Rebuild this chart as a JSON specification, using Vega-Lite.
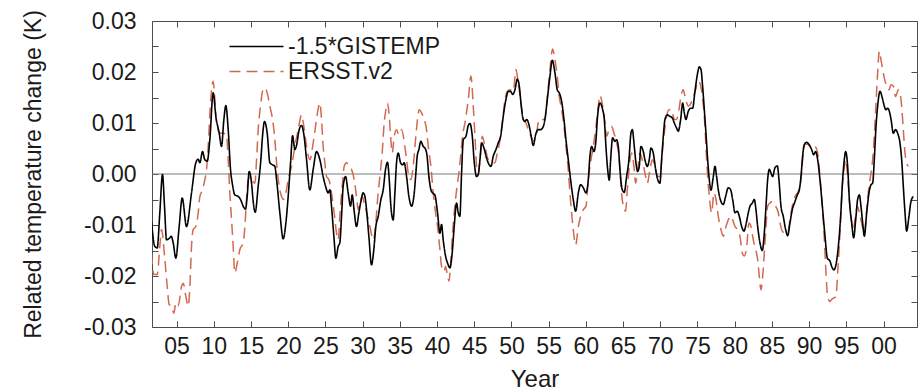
{
"$schema": "https://vega.github.io/schema/vega-lite/v6.json",
"width": 765, "height": 306,
"autosize": {"type": "none"},
"padding": {"left": 152, "top": 21, "right": 7, "bottom": 64},
"background": "white",
"config": {
  "font": "Liberation Sans",
  "view": {"stroke": "#4d4d4d", "strokeWidth": 1},
  "axis": {"domain": false, "grid": false, "tickColor": "#4d4d4d", "tickSize": -6, "tickWidth": 1,
           "labelFontSize": 23, "labelColor": "#1a1a1a", "labelFont": "Liberation Sans",
           "titleFontSize": 23, "titleColor": "#1a1a1a", "titleFontWeight": "normal", "titleFont": "Liberation Sans",
           "labelOverlap": false},
  "legend": {"orient": "none", "legendX": 93, "legendY": 14, "padding": 0,
             "labelFontSize": 23, "labelFont": "Liberation Sans", "labelColor": "#1a1a1a",
             "symbolType": "M-3,0H3", "symbolSize": 324, "symbolStrokeWidth": 1.5,
             "labelOffset": 20, "rowPadding": 1}
},
"data": {"values": [
{"series":"-1.5*GISTEMP","year":1901.63,"value":-0.0093},
{"series":"-1.5*GISTEMP","year":1902.08,"value":-0.0142},
{"series":"-1.5*GISTEMP","year":1902.40,"value":-0.0145},
{"series":"-1.5*GISTEMP","year":1902.75,"value":-0.0076},
{"series":"-1.5*GISTEMP","year":1903.11,"value":-0.0001},
{"series":"-1.5*GISTEMP","year":1903.38,"value":-0.0063},
{"series":"-1.5*GISTEMP","year":1903.65,"value":-0.0129},
{"series":"-1.5*GISTEMP","year":1904.10,"value":-0.0125},
{"series":"-1.5*GISTEMP","year":1904.28,"value":-0.0122},
{"series":"-1.5*GISTEMP","year":1904.55,"value":-0.0135},
{"series":"-1.5*GISTEMP","year":1904.90,"value":-0.0165},
{"series":"-1.5*GISTEMP","year":1905.35,"value":-0.0103},
{"series":"-1.5*GISTEMP","year":1905.76,"value":-0.0047},
{"series":"-1.5*GISTEMP","year":1906.34,"value":-0.0103},
{"series":"-1.5*GISTEMP","year":1907.01,"value":-0.0037},
{"series":"-1.5*GISTEMP","year":1907.59,"value":0.0022},
{"series":"-1.5*GISTEMP","year":1907.91,"value":0.0029},
{"series":"-1.5*GISTEMP","year":1908.13,"value":0.0022},
{"series":"-1.5*GISTEMP","year":1908.49,"value":0.0044},
{"series":"-1.5*GISTEMP","year":1908.80,"value":0.0028},
{"series":"-1.5*GISTEMP","year":1909.12,"value":0.0025},
{"series":"-1.5*GISTEMP","year":1909.47,"value":0.0067},
{"series":"-1.5*GISTEMP","year":1909.92,"value":0.0159},
{"series":"-1.5*GISTEMP","year":1910.28,"value":0.0113},
{"series":"-1.5*GISTEMP","year":1910.73,"value":0.0080},
{"series":"-1.5*GISTEMP","year":1911.04,"value":0.0054},
{"series":"-1.5*GISTEMP","year":1911.36,"value":0.0107},
{"series":"-1.5*GISTEMP","year":1911.62,"value":0.0134},
{"series":"-1.5*GISTEMP","year":1911.94,"value":0.0087},
{"series":"-1.5*GISTEMP","year":1912.25,"value":0.0009},
{"series":"-1.5*GISTEMP","year":1912.52,"value":-0.0021},
{"series":"-1.5*GISTEMP","year":1912.83,"value":-0.0041},
{"series":"-1.5*GISTEMP","year":1913.28,"value":-0.0044},
{"series":"-1.5*GISTEMP","year":1913.60,"value":-0.0050},
{"series":"-1.5*GISTEMP","year":1913.95,"value":-0.0063},
{"series":"-1.5*GISTEMP","year":1914.27,"value":-0.0069},
{"series":"-1.5*GISTEMP","year":1914.49,"value":-0.0044},
{"series":"-1.5*GISTEMP","year":1914.76,"value":0.0005},
{"series":"-1.5*GISTEMP","year":1915.08,"value":-0.0018},
{"series":"-1.5*GISTEMP","year":1915.30,"value":-0.0054},
{"series":"-1.5*GISTEMP","year":1915.57,"value":-0.0075},
{"series":"-1.5*GISTEMP","year":1915.97,"value":-0.0024},
{"series":"-1.5*GISTEMP","year":1916.33,"value":0.0028},
{"series":"-1.5*GISTEMP","year":1916.55,"value":0.0074},
{"series":"-1.5*GISTEMP","year":1916.82,"value":0.0103},
{"series":"-1.5*GISTEMP","year":1917.18,"value":0.0080},
{"series":"-1.5*GISTEMP","year":1917.54,"value":0.0022},
{"series":"-1.5*GISTEMP","year":1917.90,"value":0.0018},
{"series":"-1.5*GISTEMP","year":1918.21,"value":0.0015},
{"series":"-1.5*GISTEMP","year":1918.44,"value":-0.0011},
{"series":"-1.5*GISTEMP","year":1918.88,"value":-0.0076},
{"series":"-1.5*GISTEMP","year":1919.33,"value":-0.0127},
{"series":"-1.5*GISTEMP","year":1919.69,"value":-0.0096},
{"series":"-1.5*GISTEMP","year":1920.00,"value":-0.0044},
{"series":"-1.5*GISTEMP","year":1920.32,"value":0.0022},
{"series":"-1.5*GISTEMP","year":1920.59,"value":0.0075},
{"series":"-1.5*GISTEMP","year":1920.90,"value":0.0048},
{"series":"-1.5*GISTEMP","year":1921.12,"value":0.0056},
{"series":"-1.5*GISTEMP","year":1921.48,"value":0.0087},
{"series":"-1.5*GISTEMP","year":1921.80,"value":0.0095},
{"series":"-1.5*GISTEMP","year":1922.11,"value":0.0077},
{"series":"-1.5*GISTEMP","year":1922.47,"value":0.0028},
{"series":"-1.5*GISTEMP","year":1922.91,"value":-0.0031},
{"series":"-1.5*GISTEMP","year":1923.36,"value":0.0009},
{"series":"-1.5*GISTEMP","year":1923.81,"value":0.0044},
{"series":"-1.5*GISTEMP","year":1924.26,"value":0.0028},
{"series":"-1.5*GISTEMP","year":1924.70,"value":-0.0005},
{"series":"-1.5*GISTEMP","year":1925.02,"value":-0.0024},
{"series":"-1.5*GISTEMP","year":1925.38,"value":-0.0037},
{"series":"-1.5*GISTEMP","year":1925.60,"value":-0.0031},
{"series":"-1.5*GISTEMP","year":1925.82,"value":-0.0063},
{"series":"-1.5*GISTEMP","year":1926.14,"value":-0.0122},
{"series":"-1.5*GISTEMP","year":1926.41,"value":-0.0165},
{"series":"-1.5*GISTEMP","year":1926.72,"value":-0.0142},
{"series":"-1.5*GISTEMP","year":1926.94,"value":-0.0135},
{"series":"-1.5*GISTEMP","year":1927.17,"value":-0.0083},
{"series":"-1.5*GISTEMP","year":1927.39,"value":-0.0024},
{"series":"-1.5*GISTEMP","year":1927.71,"value":-0.0005},
{"series":"-1.5*GISTEMP","year":1928.06,"value":-0.0037},
{"series":"-1.5*GISTEMP","year":1928.38,"value":-0.0063},
{"series":"-1.5*GISTEMP","year":1928.60,"value":-0.0041},
{"series":"-1.5*GISTEMP","year":1928.87,"value":-0.0073},
{"series":"-1.5*GISTEMP","year":1929.18,"value":-0.0103},
{"series":"-1.5*GISTEMP","year":1929.50,"value":-0.0076},
{"series":"-1.5*GISTEMP","year":1929.77,"value":-0.0054},
{"series":"-1.5*GISTEMP","year":1930.08,"value":-0.0037},
{"series":"-1.5*GISTEMP","year":1930.31,"value":-0.0044},
{"series":"-1.5*GISTEMP","year":1930.53,"value":-0.0070},
{"series":"-1.5*GISTEMP","year":1930.84,"value":-0.0122},
{"series":"-1.5*GISTEMP","year":1931.20,"value":-0.0178},
{"series":"-1.5*GISTEMP","year":1931.51,"value":-0.0148},
{"series":"-1.5*GISTEMP","year":1931.78,"value":-0.0103},
{"series":"-1.5*GISTEMP","year":1932.10,"value":-0.0083},
{"series":"-1.5*GISTEMP","year":1932.46,"value":-0.0050},
{"series":"-1.5*GISTEMP","year":1932.77,"value":-0.0031},
{"series":"-1.5*GISTEMP","year":1933.08,"value":0.0009},
{"series":"-1.5*GISTEMP","year":1933.35,"value":0.0023},
{"series":"-1.5*GISTEMP","year":1933.58,"value":-0.0011},
{"series":"-1.5*GISTEMP","year":1933.80,"value":-0.0063},
{"series":"-1.5*GISTEMP","year":1934.11,"value":-0.0090},
{"series":"-1.5*GISTEMP","year":1934.34,"value":-0.0037},
{"series":"-1.5*GISTEMP","year":1934.56,"value":0.0022},
{"series":"-1.5*GISTEMP","year":1934.79,"value":0.0041},
{"series":"-1.5*GISTEMP","year":1935.10,"value":0.0022},
{"series":"-1.5*GISTEMP","year":1935.37,"value":0.0018},
{"series":"-1.5*GISTEMP","year":1935.59,"value":0.0022},
{"series":"-1.5*GISTEMP","year":1935.91,"value":-0.0005},
{"series":"-1.5*GISTEMP","year":1936.22,"value":-0.0044},
{"series":"-1.5*GISTEMP","year":1936.58,"value":-0.0063},
{"series":"-1.5*GISTEMP","year":1936.94,"value":-0.0037},
{"series":"-1.5*GISTEMP","year":1937.16,"value":0.0002},
{"series":"-1.5*GISTEMP","year":1937.34,"value":0.0035},
{"series":"-1.5*GISTEMP","year":1937.56,"value":0.0048},
{"series":"-1.5*GISTEMP","year":1937.83,"value":0.0064},
{"series":"-1.5*GISTEMP","year":1938.15,"value":0.0054},
{"series":"-1.5*GISTEMP","year":1938.37,"value":0.0051},
{"series":"-1.5*GISTEMP","year":1938.64,"value":0.0038},
{"series":"-1.5*GISTEMP","year":1938.91,"value":-0.0005},
{"series":"-1.5*GISTEMP","year":1939.18,"value":-0.0031},
{"series":"-1.5*GISTEMP","year":1939.40,"value":-0.0037},
{"series":"-1.5*GISTEMP","year":1939.71,"value":-0.0041},
{"series":"-1.5*GISTEMP","year":1940.07,"value":-0.0076},
{"series":"-1.5*GISTEMP","year":1940.39,"value":-0.0116},
{"series":"-1.5*GISTEMP","year":1940.61,"value":-0.0099},
{"series":"-1.5*GISTEMP","year":1940.83,"value":-0.0129},
{"series":"-1.5*GISTEMP","year":1941.15,"value":-0.0161},
{"series":"-1.5*GISTEMP","year":1941.42,"value":-0.0175},
{"series":"-1.5*GISTEMP","year":1941.73,"value":-0.0184},
{"series":"-1.5*GISTEMP","year":1942.04,"value":-0.0155},
{"series":"-1.5*GISTEMP","year":1942.31,"value":-0.0103},
{"series":"-1.5*GISTEMP","year":1942.63,"value":-0.0057},
{"series":"-1.5*GISTEMP","year":1942.85,"value":-0.0076},
{"series":"-1.5*GISTEMP","year":1943.07,"value":-0.0083},
{"series":"-1.5*GISTEMP","year":1943.30,"value":0.0002},
{"series":"-1.5*GISTEMP","year":1943.53,"value":0.0067},
{"series":"-1.5*GISTEMP","year":1943.89,"value":0.0074},
{"series":"-1.5*GISTEMP","year":1944.20,"value":0.0095},
{"series":"-1.5*GISTEMP","year":1944.42,"value":0.0099},
{"series":"-1.5*GISTEMP","year":1944.74,"value":0.0074},
{"series":"-1.5*GISTEMP","year":1945.01,"value":0.0022},
{"series":"-1.5*GISTEMP","year":1945.32,"value":-0.0005},
{"series":"-1.5*GISTEMP","year":1945.54,"value":-0.0001},
{"series":"-1.5*GISTEMP","year":1945.77,"value":0.0028},
{"series":"-1.5*GISTEMP","year":1945.99,"value":0.0061},
{"series":"-1.5*GISTEMP","year":1946.31,"value":0.0051},
{"series":"-1.5*GISTEMP","year":1946.66,"value":0.0031},
{"series":"-1.5*GISTEMP","year":1947.02,"value":0.0018},
{"series":"-1.5*GISTEMP","year":1947.25,"value":0.0015},
{"series":"-1.5*GISTEMP","year":1947.56,"value":0.0035},
{"series":"-1.5*GISTEMP","year":1947.92,"value":0.0048},
{"series":"-1.5*GISTEMP","year":1948.23,"value":0.0061},
{"series":"-1.5*GISTEMP","year":1948.55,"value":0.0074},
{"series":"-1.5*GISTEMP","year":1948.90,"value":0.0113},
{"series":"-1.5*GISTEMP","year":1949.26,"value":0.0146},
{"series":"-1.5*GISTEMP","year":1949.58,"value":0.0162},
{"series":"-1.5*GISTEMP","year":1949.89,"value":0.0162},
{"series":"-1.5*GISTEMP","year":1950.16,"value":0.0156},
{"series":"-1.5*GISTEMP","year":1950.47,"value":0.0165},
{"series":"-1.5*GISTEMP","year":1950.79,"value":0.0186},
{"series":"-1.5*GISTEMP","year":1951.06,"value":0.0172},
{"series":"-1.5*GISTEMP","year":1951.28,"value":0.0139},
{"series":"-1.5*GISTEMP","year":1951.59,"value":0.0107},
{"series":"-1.5*GISTEMP","year":1951.82,"value":0.0103},
{"series":"-1.5*GISTEMP","year":1952.04,"value":0.0107},
{"series":"-1.5*GISTEMP","year":1952.35,"value":0.0097},
{"series":"-1.5*GISTEMP","year":1952.62,"value":0.0077},
{"series":"-1.5*GISTEMP","year":1952.94,"value":0.0056},
{"series":"-1.5*GISTEMP","year":1953.25,"value":0.0077},
{"series":"-1.5*GISTEMP","year":1953.61,"value":0.0087},
{"series":"-1.5*GISTEMP","year":1953.92,"value":0.0087},
{"series":"-1.5*GISTEMP","year":1954.28,"value":0.0093},
{"series":"-1.5*GISTEMP","year":1954.50,"value":0.0107},
{"series":"-1.5*GISTEMP","year":1954.82,"value":0.0146},
{"series":"-1.5*GISTEMP","year":1955.18,"value":0.0192},
{"series":"-1.5*GISTEMP","year":1955.49,"value":0.0223},
{"series":"-1.5*GISTEMP","year":1955.85,"value":0.0198},
{"series":"-1.5*GISTEMP","year":1956.16,"value":0.0165},
{"series":"-1.5*GISTEMP","year":1956.43,"value":0.0159},
{"series":"-1.5*GISTEMP","year":1956.75,"value":0.0142},
{"series":"-1.5*GISTEMP","year":1957.06,"value":0.0107},
{"series":"-1.5*GISTEMP","year":1957.33,"value":0.0067},
{"series":"-1.5*GISTEMP","year":1957.64,"value":0.0028},
{"series":"-1.5*GISTEMP","year":1957.95,"value":-0.0011},
{"series":"-1.5*GISTEMP","year":1958.31,"value":-0.0050},
{"series":"-1.5*GISTEMP","year":1958.63,"value":-0.0073},
{"series":"-1.5*GISTEMP","year":1958.99,"value":-0.0037},
{"series":"-1.5*GISTEMP","year":1959.30,"value":-0.0021},
{"series":"-1.5*GISTEMP","year":1959.66,"value":-0.0027},
{"series":"-1.5*GISTEMP","year":1960.02,"value":-0.0037},
{"series":"-1.5*GISTEMP","year":1960.33,"value":-0.0011},
{"series":"-1.5*GISTEMP","year":1960.55,"value":0.0035},
{"series":"-1.5*GISTEMP","year":1960.78,"value":0.0054},
{"series":"-1.5*GISTEMP","year":1961.09,"value":0.0044},
{"series":"-1.5*GISTEMP","year":1961.36,"value":0.0067},
{"series":"-1.5*GISTEMP","year":1961.54,"value":0.0107},
{"series":"-1.5*GISTEMP","year":1961.90,"value":0.0139},
{"series":"-1.5*GISTEMP","year":1962.26,"value":0.0126},
{"series":"-1.5*GISTEMP","year":1962.48,"value":0.0107},
{"series":"-1.5*GISTEMP","year":1962.70,"value":0.0054},
{"series":"-1.5*GISTEMP","year":1962.93,"value":0.0009},
{"series":"-1.5*GISTEMP","year":1963.15,"value":-0.0012},
{"series":"-1.5*GISTEMP","year":1963.33,"value":0.0028},
{"series":"-1.5*GISTEMP","year":1963.60,"value":0.0071},
{"series":"-1.5*GISTEMP","year":1963.91,"value":0.0064},
{"series":"-1.5*GISTEMP","year":1964.13,"value":0.0067},
{"series":"-1.5*GISTEMP","year":1964.36,"value":0.0054},
{"series":"-1.5*GISTEMP","year":1964.58,"value":0.0009},
{"series":"-1.5*GISTEMP","year":1964.90,"value":-0.0031},
{"series":"-1.5*GISTEMP","year":1965.16,"value":-0.0036},
{"series":"-1.5*GISTEMP","year":1965.48,"value":-0.0005},
{"series":"-1.5*GISTEMP","year":1965.79,"value":0.0028},
{"series":"-1.5*GISTEMP","year":1966.06,"value":0.0080},
{"series":"-1.5*GISTEMP","year":1966.24,"value":0.0087},
{"series":"-1.5*GISTEMP","year":1966.51,"value":0.0054},
{"series":"-1.5*GISTEMP","year":1966.73,"value":0.0022},
{"series":"-1.5*GISTEMP","year":1966.96,"value":0.0005},
{"series":"-1.5*GISTEMP","year":1967.18,"value":0.0015},
{"series":"-1.5*GISTEMP","year":1967.40,"value":0.0054},
{"series":"-1.5*GISTEMP","year":1967.72,"value":0.0044},
{"series":"-1.5*GISTEMP","year":1967.94,"value":0.0028},
{"series":"-1.5*GISTEMP","year":1968.26,"value":0.0015},
{"series":"-1.5*GISTEMP","year":1968.52,"value":0.0028},
{"series":"-1.5*GISTEMP","year":1968.75,"value":0.0051},
{"series":"-1.5*GISTEMP","year":1969.06,"value":0.0041},
{"series":"-1.5*GISTEMP","year":1969.38,"value":0.0009},
{"series":"-1.5*GISTEMP","year":1969.64,"value":-0.0010},
{"series":"-1.5*GISTEMP","year":1969.96,"value":-0.0018},
{"series":"-1.5*GISTEMP","year":1970.18,"value":0.0028},
{"series":"-1.5*GISTEMP","year":1970.41,"value":0.0074},
{"series":"-1.5*GISTEMP","year":1970.63,"value":0.0107},
{"series":"-1.5*GISTEMP","year":1970.94,"value":0.0116},
{"series":"-1.5*GISTEMP","year":1971.30,"value":0.0113},
{"series":"-1.5*GISTEMP","year":1971.62,"value":0.0110},
{"series":"-1.5*GISTEMP","year":1971.89,"value":0.0100},
{"series":"-1.5*GISTEMP","year":1972.20,"value":0.0090},
{"series":"-1.5*GISTEMP","year":1972.42,"value":0.0084},
{"series":"-1.5*GISTEMP","year":1972.74,"value":0.0107},
{"series":"-1.5*GISTEMP","year":1973.01,"value":0.0139},
{"series":"-1.5*GISTEMP","year":1973.23,"value":0.0120},
{"series":"-1.5*GISTEMP","year":1973.45,"value":0.0107},
{"series":"-1.5*GISTEMP","year":1973.77,"value":0.0123},
{"series":"-1.5*GISTEMP","year":1974.08,"value":0.0129},
{"series":"-1.5*GISTEMP","year":1974.35,"value":0.0129},
{"series":"-1.5*GISTEMP","year":1974.66,"value":0.0162},
{"series":"-1.5*GISTEMP","year":1975.02,"value":0.0198},
{"series":"-1.5*GISTEMP","year":1975.25,"value":0.0210},
{"series":"-1.5*GISTEMP","year":1975.47,"value":0.0205},
{"series":"-1.5*GISTEMP","year":1975.69,"value":0.0172},
{"series":"-1.5*GISTEMP","year":1975.92,"value":0.0126},
{"series":"-1.5*GISTEMP","year":1976.14,"value":0.0080},
{"series":"-1.5*GISTEMP","year":1976.37,"value":0.0028},
{"series":"-1.5*GISTEMP","year":1976.59,"value":-0.0011},
{"series":"-1.5*GISTEMP","year":1976.81,"value":-0.0032},
{"series":"-1.5*GISTEMP","year":1977.13,"value":-0.0005},
{"series":"-1.5*GISTEMP","year":1977.35,"value":0.0015},
{"series":"-1.5*GISTEMP","year":1977.57,"value":-0.0005},
{"series":"-1.5*GISTEMP","year":1977.80,"value":-0.0031},
{"series":"-1.5*GISTEMP","year":1978.16,"value":-0.0054},
{"series":"-1.5*GISTEMP","year":1978.47,"value":-0.0060},
{"series":"-1.5*GISTEMP","year":1978.78,"value":-0.0044},
{"series":"-1.5*GISTEMP","year":1979.14,"value":-0.0027},
{"series":"-1.5*GISTEMP","year":1979.46,"value":-0.0031},
{"series":"-1.5*GISTEMP","year":1979.73,"value":-0.0050},
{"series":"-1.5*GISTEMP","year":1980.04,"value":-0.0076},
{"series":"-1.5*GISTEMP","year":1980.35,"value":-0.0073},
{"series":"-1.5*GISTEMP","year":1980.62,"value":-0.0083},
{"series":"-1.5*GISTEMP","year":1980.94,"value":-0.0103},
{"series":"-1.5*GISTEMP","year":1981.25,"value":-0.0112},
{"series":"-1.5*GISTEMP","year":1981.52,"value":-0.0099},
{"series":"-1.5*GISTEMP","year":1981.83,"value":-0.0076},
{"series":"-1.5*GISTEMP","year":1982.06,"value":-0.0063},
{"series":"-1.5*GISTEMP","year":1982.37,"value":-0.0057},
{"series":"-1.5*GISTEMP","year":1982.64,"value":-0.0050},
{"series":"-1.5*GISTEMP","year":1982.86,"value":-0.0070},
{"series":"-1.5*GISTEMP","year":1983.09,"value":-0.0103},
{"series":"-1.5*GISTEMP","year":1983.40,"value":-0.0135},
{"series":"-1.5*GISTEMP","year":1983.71,"value":-0.0150},
{"series":"-1.5*GISTEMP","year":1983.98,"value":-0.0116},
{"series":"-1.5*GISTEMP","year":1984.21,"value":-0.0063},
{"series":"-1.5*GISTEMP","year":1984.43,"value":-0.0011},
{"series":"-1.5*GISTEMP","year":1984.65,"value":0.0009},
{"series":"-1.5*GISTEMP","year":1984.88,"value":0.0002},
{"series":"-1.5*GISTEMP","year":1985.10,"value":-0.0005},
{"series":"-1.5*GISTEMP","year":1985.41,"value":0.0012},
{"series":"-1.5*GISTEMP","year":1985.73,"value":0.0016},
{"series":"-1.5*GISTEMP","year":1985.95,"value":-0.0011},
{"series":"-1.5*GISTEMP","year":1986.22,"value":-0.0063},
{"series":"-1.5*GISTEMP","year":1986.53,"value":-0.0083},
{"series":"-1.5*GISTEMP","year":1986.85,"value":-0.0109},
{"series":"-1.5*GISTEMP","year":1987.12,"value":-0.0121},
{"series":"-1.5*GISTEMP","year":1987.43,"value":-0.0096},
{"series":"-1.5*GISTEMP","year":1987.74,"value":-0.0070},
{"series":"-1.5*GISTEMP","year":1988.10,"value":-0.0054},
{"series":"-1.5*GISTEMP","year":1988.42,"value":-0.0041},
{"series":"-1.5*GISTEMP","year":1988.69,"value":-0.0031},
{"series":"-1.5*GISTEMP","year":1988.91,"value":-0.0005},
{"series":"-1.5*GISTEMP","year":1989.13,"value":0.0035},
{"series":"-1.5*GISTEMP","year":1989.36,"value":0.0058},
{"series":"-1.5*GISTEMP","year":1989.67,"value":0.0062},
{"series":"-1.5*GISTEMP","year":1989.98,"value":0.0058},
{"series":"-1.5*GISTEMP","year":1990.34,"value":0.0048},
{"series":"-1.5*GISTEMP","year":1990.61,"value":0.0038},
{"series":"-1.5*GISTEMP","year":1990.88,"value":0.0044},
{"series":"-1.5*GISTEMP","year":1991.15,"value":0.0028},
{"series":"-1.5*GISTEMP","year":1991.46,"value":-0.0011},
{"series":"-1.5*GISTEMP","year":1991.78,"value":-0.0063},
{"series":"-1.5*GISTEMP","year":1992.14,"value":-0.0122},
{"series":"-1.5*GISTEMP","year":1992.45,"value":-0.0165},
{"series":"-1.5*GISTEMP","year":1992.81,"value":-0.0171},
{"series":"-1.5*GISTEMP","year":1993.03,"value":-0.0181},
{"series":"-1.5*GISTEMP","year":1993.34,"value":-0.0188},
{"series":"-1.5*GISTEMP","year":1993.61,"value":-0.0178},
{"series":"-1.5*GISTEMP","year":1993.93,"value":-0.0142},
{"series":"-1.5*GISTEMP","year":1994.24,"value":-0.0083},
{"series":"-1.5*GISTEMP","year":1994.51,"value":-0.0011},
{"series":"-1.5*GISTEMP","year":1994.73,"value":0.0028},
{"series":"-1.5*GISTEMP","year":1994.91,"value":0.0044},
{"series":"-1.5*GISTEMP","year":1995.18,"value":0.0015},
{"series":"-1.5*GISTEMP","year":1995.41,"value":-0.0050},
{"series":"-1.5*GISTEMP","year":1995.72,"value":-0.0096},
{"series":"-1.5*GISTEMP","year":1995.99,"value":-0.0125},
{"series":"-1.5*GISTEMP","year":1996.26,"value":-0.0090},
{"series":"-1.5*GISTEMP","year":1996.52,"value":-0.0050},
{"series":"-1.5*GISTEMP","year":1996.75,"value":-0.0041},
{"series":"-1.5*GISTEMP","year":1996.97,"value":-0.0063},
{"series":"-1.5*GISTEMP","year":1997.20,"value":-0.0096},
{"series":"-1.5*GISTEMP","year":1997.42,"value":-0.0122},
{"series":"-1.5*GISTEMP","year":1997.74,"value":-0.0076},
{"series":"-1.5*GISTEMP","year":1998.05,"value":-0.0037},
{"series":"-1.5*GISTEMP","year":1998.32,"value":-0.0021},
{"series":"-1.5*GISTEMP","year":1998.54,"value":-0.0018},
{"series":"-1.5*GISTEMP","year":1998.76,"value":0.0028},
{"series":"-1.5*GISTEMP","year":1998.99,"value":0.0093},
{"series":"-1.5*GISTEMP","year":1999.21,"value":0.0133},
{"series":"-1.5*GISTEMP","year":1999.53,"value":0.0162},
{"series":"-1.5*GISTEMP","year":1999.84,"value":0.0149},
{"series":"-1.5*GISTEMP","year":2000.11,"value":0.0133},
{"series":"-1.5*GISTEMP","year":2000.33,"value":0.0126},
{"series":"-1.5*GISTEMP","year":2000.56,"value":0.0129},
{"series":"-1.5*GISTEMP","year":2000.78,"value":0.0123},
{"series":"-1.5*GISTEMP","year":2001.01,"value":0.0107},
{"series":"-1.5*GISTEMP","year":2001.32,"value":0.0080},
{"series":"-1.5*GISTEMP","year":2001.63,"value":0.0087},
{"series":"-1.5*GISTEMP","year":2001.90,"value":0.0080},
{"series":"-1.5*GISTEMP","year":2002.21,"value":0.0061},
{"series":"-1.5*GISTEMP","year":2002.44,"value":0.0028},
{"series":"-1.5*GISTEMP","year":2002.66,"value":-0.0024},
{"series":"-1.5*GISTEMP","year":2002.89,"value":-0.0076},
{"series":"-1.5*GISTEMP","year":2003.11,"value":-0.0112},
{"series":"-1.5*GISTEMP","year":2003.42,"value":-0.0083},
{"series":"-1.5*GISTEMP","year":2003.69,"value":-0.0054},
{"series":"-1.5*GISTEMP","year":2004.01,"value":-0.0044},
{"series":"ERSST.v2","year":1901.63,"value":-0.0155},
{"series":"ERSST.v2","year":1901.95,"value":-0.0197},
{"series":"ERSST.v2","year":1902.40,"value":-0.0197},
{"series":"ERSST.v2","year":1902.75,"value":-0.0142},
{"series":"ERSST.v2","year":1902.98,"value":-0.0109},
{"series":"ERSST.v2","year":1903.43,"value":-0.0168},
{"series":"ERSST.v2","year":1903.74,"value":-0.0220},
{"series":"ERSST.v2","year":1904.01,"value":-0.0256},
{"series":"ERSST.v2","year":1904.32,"value":-0.0259},
{"series":"ERSST.v2","year":1904.64,"value":-0.0273},
{"series":"ERSST.v2","year":1904.90,"value":-0.0253},
{"series":"ERSST.v2","year":1905.22,"value":-0.0259},
{"series":"ERSST.v2","year":1905.67,"value":-0.0220},
{"series":"ERSST.v2","year":1905.89,"value":-0.0214},
{"series":"ERSST.v2","year":1906.25,"value":-0.0240},
{"series":"ERSST.v2","year":1906.56,"value":-0.0259},
{"series":"ERSST.v2","year":1906.79,"value":-0.0220},
{"series":"ERSST.v2","year":1907.01,"value":-0.0142},
{"series":"ERSST.v2","year":1907.23,"value":-0.0109},
{"series":"ERSST.v2","year":1907.59,"value":-0.0103},
{"series":"ERSST.v2","year":1907.91,"value":-0.0076},
{"series":"ERSST.v2","year":1908.13,"value":-0.0044},
{"series":"ERSST.v2","year":1908.49,"value":-0.0031},
{"series":"ERSST.v2","year":1908.80,"value":-0.0011},
{"series":"ERSST.v2","year":1909.03,"value":0.0009},
{"series":"ERSST.v2","year":1909.25,"value":0.0054},
{"series":"ERSST.v2","year":1909.56,"value":0.0139},
{"series":"ERSST.v2","year":1909.92,"value":0.0182},
{"series":"ERSST.v2","year":1910.15,"value":0.0146},
{"series":"ERSST.v2","year":1910.37,"value":0.0100},
{"series":"ERSST.v2","year":1910.82,"value":0.0080},
{"series":"ERSST.v2","year":1911.27,"value":0.0080},
{"series":"ERSST.v2","year":1911.71,"value":0.0077},
{"series":"ERSST.v2","year":1911.94,"value":0.0028},
{"series":"ERSST.v2","year":1912.16,"value":-0.0037},
{"series":"ERSST.v2","year":1912.39,"value":-0.0090},
{"series":"ERSST.v2","year":1912.61,"value":-0.0142},
{"series":"ERSST.v2","year":1912.83,"value":-0.0194},
{"series":"ERSST.v2","year":1913.15,"value":-0.0175},
{"series":"ERSST.v2","year":1913.51,"value":-0.0148},
{"series":"ERSST.v2","year":1913.95,"value":-0.0135},
{"series":"ERSST.v2","year":1914.18,"value":-0.0103},
{"series":"ERSST.v2","year":1914.40,"value":-0.0050},
{"series":"ERSST.v2","year":1914.63,"value":-0.0011},
{"series":"ERSST.v2","year":1914.85,"value":-0.0005},
{"series":"ERSST.v2","year":1915.08,"value":-0.0011},
{"series":"ERSST.v2","year":1915.52,"value":-0.0018},
{"series":"ERSST.v2","year":1915.75,"value":0.0028},
{"series":"ERSST.v2","year":1915.97,"value":0.0087},
{"series":"ERSST.v2","year":1916.28,"value":0.0133},
{"series":"ERSST.v2","year":1916.55,"value":0.0162},
{"series":"ERSST.v2","year":1916.87,"value":0.0169},
{"series":"ERSST.v2","year":1917.18,"value":0.0159},
{"series":"ERSST.v2","year":1917.54,"value":0.0133},
{"series":"ERSST.v2","year":1917.90,"value":0.0107},
{"series":"ERSST.v2","year":1918.21,"value":0.0067},
{"series":"ERSST.v2","year":1918.44,"value":0.0022},
{"series":"ERSST.v2","year":1918.79,"value":-0.0024},
{"series":"ERSST.v2","year":1919.11,"value":-0.0044},
{"series":"ERSST.v2","year":1919.33,"value":-0.0050},
{"series":"ERSST.v2","year":1919.69,"value":-0.0037},
{"series":"ERSST.v2","year":1920.00,"value":-0.0011},
{"series":"ERSST.v2","year":1920.45,"value":0.0015},
{"series":"ERSST.v2","year":1920.90,"value":0.0054},
{"series":"ERSST.v2","year":1921.35,"value":0.0087},
{"series":"ERSST.v2","year":1921.80,"value":0.0116},
{"series":"ERSST.v2","year":1922.11,"value":0.0093},
{"series":"ERSST.v2","year":1922.47,"value":0.0054},
{"series":"ERSST.v2","year":1922.91,"value":0.0028},
{"series":"ERSST.v2","year":1923.36,"value":0.0061},
{"series":"ERSST.v2","year":1923.67,"value":0.0093},
{"series":"ERSST.v2","year":1923.94,"value":0.0120},
{"series":"ERSST.v2","year":1924.26,"value":0.0139},
{"series":"ERSST.v2","year":1924.48,"value":0.0107},
{"series":"ERSST.v2","year":1924.70,"value":0.0054},
{"series":"ERSST.v2","year":1924.93,"value":0.0022},
{"series":"ERSST.v2","year":1925.15,"value":-0.0005},
{"series":"ERSST.v2","year":1925.47,"value":-0.0011},
{"series":"ERSST.v2","year":1925.82,"value":-0.0037},
{"series":"ERSST.v2","year":1926.18,"value":-0.0076},
{"series":"ERSST.v2","year":1926.50,"value":-0.0116},
{"series":"ERSST.v2","year":1926.72,"value":-0.0129},
{"series":"ERSST.v2","year":1926.94,"value":-0.0083},
{"series":"ERSST.v2","year":1927.26,"value":-0.0024},
{"series":"ERSST.v2","year":1927.53,"value":0.0015},
{"series":"ERSST.v2","year":1927.84,"value":0.0022},
{"series":"ERSST.v2","year":1928.15,"value":0.0015},
{"series":"ERSST.v2","year":1928.51,"value":0.0009},
{"series":"ERSST.v2","year":1928.87,"value":-0.0011},
{"series":"ERSST.v2","year":1929.18,"value":-0.0044},
{"series":"ERSST.v2","year":1929.41,"value":-0.0070},
{"series":"ERSST.v2","year":1929.63,"value":-0.0057},
{"series":"ERSST.v2","year":1929.95,"value":-0.0044},
{"series":"ERSST.v2","year":1930.31,"value":-0.0063},
{"series":"ERSST.v2","year":1930.66,"value":-0.0083},
{"series":"ERSST.v2","year":1930.98,"value":-0.0103},
{"series":"ERSST.v2","year":1931.43,"value":-0.0129},
{"series":"ERSST.v2","year":1931.74,"value":-0.0103},
{"series":"ERSST.v2","year":1932.01,"value":-0.0050},
{"series":"ERSST.v2","year":1932.32,"value":-0.0005},
{"series":"ERSST.v2","year":1932.63,"value":0.0041},
{"series":"ERSST.v2","year":1932.90,"value":0.0100},
{"series":"ERSST.v2","year":1933.13,"value":0.0126},
{"series":"ERSST.v2","year":1933.35,"value":0.0139},
{"series":"ERSST.v2","year":1933.58,"value":0.0113},
{"series":"ERSST.v2","year":1933.80,"value":0.0067},
{"series":"ERSST.v2","year":1933.98,"value":0.0041},
{"series":"ERSST.v2","year":1934.25,"value":0.0074},
{"series":"ERSST.v2","year":1934.56,"value":0.0087},
{"series":"ERSST.v2","year":1934.87,"value":0.0077},
{"series":"ERSST.v2","year":1935.23,"value":0.0087},
{"series":"ERSST.v2","year":1935.68,"value":0.0054},
{"series":"ERSST.v2","year":1935.91,"value":0.0028},
{"series":"ERSST.v2","year":1936.22,"value":-0.0005},
{"series":"ERSST.v2","year":1936.49,"value":-0.0011},
{"series":"ERSST.v2","year":1936.80,"value":0.0015},
{"series":"ERSST.v2","year":1937.11,"value":0.0067},
{"series":"ERSST.v2","year":1937.38,"value":0.0107},
{"series":"ERSST.v2","year":1937.61,"value":0.0126},
{"series":"ERSST.v2","year":1937.92,"value":0.0120},
{"series":"ERSST.v2","year":1938.28,"value":0.0107},
{"series":"ERSST.v2","year":1938.59,"value":0.0087},
{"series":"ERSST.v2","year":1938.82,"value":0.0054},
{"series":"ERSST.v2","year":1939.18,"value":0.0015},
{"series":"ERSST.v2","year":1939.49,"value":-0.0037},
{"series":"ERSST.v2","year":1939.80,"value":-0.0076},
{"series":"ERSST.v2","year":1940.07,"value":-0.0103},
{"series":"ERSST.v2","year":1940.39,"value":-0.0148},
{"series":"ERSST.v2","year":1940.61,"value":-0.0181},
{"series":"ERSST.v2","year":1940.97,"value":-0.0191},
{"series":"ERSST.v2","year":1941.15,"value":-0.0181},
{"series":"ERSST.v2","year":1941.42,"value":-0.0201},
{"series":"ERSST.v2","year":1941.60,"value":-0.0210},
{"series":"ERSST.v2","year":1941.86,"value":-0.0168},
{"series":"ERSST.v2","year":1942.09,"value":-0.0116},
{"series":"ERSST.v2","year":1942.40,"value":-0.0063},
{"series":"ERSST.v2","year":1942.63,"value":-0.0031},
{"series":"ERSST.v2","year":1942.94,"value":0.0002},
{"series":"ERSST.v2","year":1943.21,"value":0.0041},
{"series":"ERSST.v2","year":1943.43,"value":0.0074},
{"series":"ERSST.v2","year":1943.75,"value":0.0100},
{"series":"ERSST.v2","year":1944.20,"value":0.0146},
{"series":"ERSST.v2","year":1944.56,"value":0.0192},
{"series":"ERSST.v2","year":1944.87,"value":0.0133},
{"series":"ERSST.v2","year":1945.10,"value":0.0074},
{"series":"ERSST.v2","year":1945.32,"value":0.0015},
{"series":"ERSST.v2","year":1945.54,"value":0.0002},
{"series":"ERSST.v2","year":1945.86,"value":0.0041},
{"series":"ERSST.v2","year":1946.08,"value":0.0074},
{"series":"ERSST.v2","year":1946.44,"value":0.0054},
{"series":"ERSST.v2","year":1946.89,"value":0.0028},
{"series":"ERSST.v2","year":1947.34,"value":0.0022},
{"series":"ERSST.v2","year":1947.78,"value":0.0022},
{"series":"ERSST.v2","year":1948.10,"value":0.0041},
{"series":"ERSST.v2","year":1948.46,"value":0.0067},
{"series":"ERSST.v2","year":1948.82,"value":0.0107},
{"series":"ERSST.v2","year":1949.13,"value":0.0146},
{"series":"ERSST.v2","year":1949.44,"value":0.0162},
{"series":"ERSST.v2","year":1949.80,"value":0.0165},
{"series":"ERSST.v2","year":1950.25,"value":0.0162},
{"series":"ERSST.v2","year":1950.61,"value":0.0205},
{"series":"ERSST.v2","year":1950.92,"value":0.0178},
{"series":"ERSST.v2","year":1951.23,"value":0.0146},
{"series":"ERSST.v2","year":1951.59,"value":0.0107},
{"series":"ERSST.v2","year":1951.95,"value":0.0100},
{"series":"ERSST.v2","year":1952.26,"value":0.0087},
{"series":"ERSST.v2","year":1952.62,"value":0.0074},
{"series":"ERSST.v2","year":1952.94,"value":0.0064},
{"series":"ERSST.v2","year":1953.29,"value":0.0074},
{"series":"ERSST.v2","year":1953.74,"value":0.0107},
{"series":"ERSST.v2","year":1954.19,"value":0.0107},
{"series":"ERSST.v2","year":1954.50,"value":0.0107},
{"series":"ERSST.v2","year":1954.82,"value":0.0152},
{"series":"ERSST.v2","year":1955.18,"value":0.0205},
{"series":"ERSST.v2","year":1955.53,"value":0.0245},
{"series":"ERSST.v2","year":1955.85,"value":0.0224},
{"series":"ERSST.v2","year":1956.16,"value":0.0192},
{"series":"ERSST.v2","year":1956.43,"value":0.0152},
{"series":"ERSST.v2","year":1956.75,"value":0.0126},
{"series":"ERSST.v2","year":1957.06,"value":0.0093},
{"series":"ERSST.v2","year":1957.33,"value":0.0054},
{"series":"ERSST.v2","year":1957.64,"value":0.0008},
{"series":"ERSST.v2","year":1957.86,"value":-0.0037},
{"series":"ERSST.v2","year":1958.09,"value":-0.0076},
{"series":"ERSST.v2","year":1958.31,"value":-0.0109},
{"series":"ERSST.v2","year":1958.63,"value":-0.0139},
{"series":"ERSST.v2","year":1958.99,"value":-0.0103},
{"series":"ERSST.v2","year":1959.30,"value":-0.0083},
{"series":"ERSST.v2","year":1959.66,"value":-0.0070},
{"series":"ERSST.v2","year":1960.02,"value":-0.0063},
{"series":"ERSST.v2","year":1960.33,"value":-0.0011},
{"series":"ERSST.v2","year":1960.69,"value":0.0028},
{"series":"ERSST.v2","year":1961.00,"value":0.0054},
{"series":"ERSST.v2","year":1961.36,"value":0.0093},
{"series":"ERSST.v2","year":1961.67,"value":0.0133},
{"series":"ERSST.v2","year":1961.90,"value":0.0154},
{"series":"ERSST.v2","year":1962.26,"value":0.0133},
{"series":"ERSST.v2","year":1962.57,"value":0.0100},
{"series":"ERSST.v2","year":1962.79,"value":0.0074},
{"series":"ERSST.v2","year":1963.11,"value":0.0087},
{"series":"ERSST.v2","year":1963.47,"value":0.0093},
{"series":"ERSST.v2","year":1963.78,"value":0.0080},
{"series":"ERSST.v2","year":1964.14,"value":0.0061},
{"series":"ERSST.v2","year":1964.50,"value":0.0028},
{"series":"ERSST.v2","year":1964.72,"value":-0.0024},
{"series":"ERSST.v2","year":1965.03,"value":-0.0063},
{"series":"ERSST.v2","year":1965.34,"value":-0.0073},
{"series":"ERSST.v2","year":1965.61,"value":-0.0024},
{"series":"ERSST.v2","year":1965.93,"value":0.0028},
{"series":"ERSST.v2","year":1966.15,"value":0.0041},
{"series":"ERSST.v2","year":1966.46,"value":0.0015},
{"series":"ERSST.v2","year":1966.69,"value":-0.0018},
{"series":"ERSST.v2","year":1966.96,"value":0.0008},
{"series":"ERSST.v2","year":1967.27,"value":0.0041},
{"series":"ERSST.v2","year":1967.58,"value":0.0028},
{"series":"ERSST.v2","year":1967.94,"value":0.0002},
{"series":"ERSST.v2","year":1968.26,"value":-0.0018},
{"series":"ERSST.v2","year":1968.61,"value":0.0008},
{"series":"ERSST.v2","year":1968.93,"value":0.0028},
{"series":"ERSST.v2","year":1969.29,"value":0.0015},
{"series":"ERSST.v2","year":1969.64,"value":-0.0005},
{"series":"ERSST.v2","year":1969.96,"value":-0.0005},
{"series":"ERSST.v2","year":1970.27,"value":0.0041},
{"series":"ERSST.v2","year":1970.54,"value":0.0080},
{"series":"ERSST.v2","year":1970.85,"value":0.0113},
{"series":"ERSST.v2","year":1971.17,"value":0.0126},
{"series":"ERSST.v2","year":1971.53,"value":0.0126},
{"series":"ERSST.v2","year":1971.89,"value":0.0107},
{"series":"ERSST.v2","year":1972.20,"value":0.0107},
{"series":"ERSST.v2","year":1972.51,"value":0.0126},
{"series":"ERSST.v2","year":1972.78,"value":0.0152},
{"series":"ERSST.v2","year":1973.09,"value":0.0165},
{"series":"ERSST.v2","year":1973.41,"value":0.0146},
{"series":"ERSST.v2","year":1973.77,"value":0.0133},
{"series":"ERSST.v2","year":1974.13,"value":0.0139},
{"series":"ERSST.v2","year":1974.44,"value":0.0152},
{"series":"ERSST.v2","year":1974.75,"value":0.0165},
{"series":"ERSST.v2","year":1975.02,"value":0.0182},
{"series":"ERSST.v2","year":1975.33,"value":0.0178},
{"series":"ERSST.v2","year":1975.65,"value":0.0152},
{"series":"ERSST.v2","year":1975.92,"value":0.0113},
{"series":"ERSST.v2","year":1976.14,"value":0.0054},
{"series":"ERSST.v2","year":1976.37,"value":-0.0005},
{"series":"ERSST.v2","year":1976.59,"value":-0.0044},
{"series":"ERSST.v2","year":1976.90,"value":-0.0076},
{"series":"ERSST.v2","year":1977.22,"value":-0.0037},
{"series":"ERSST.v2","year":1977.49,"value":-0.0050},
{"series":"ERSST.v2","year":1977.80,"value":-0.0083},
{"series":"ERSST.v2","year":1978.16,"value":-0.0109},
{"series":"ERSST.v2","year":1978.47,"value":-0.0122},
{"series":"ERSST.v2","year":1978.83,"value":-0.0103},
{"series":"ERSST.v2","year":1979.14,"value":-0.0090},
{"series":"ERSST.v2","year":1979.46,"value":-0.0083},
{"series":"ERSST.v2","year":1979.73,"value":-0.0090},
{"series":"ERSST.v2","year":1980.04,"value":-0.0103},
{"series":"ERSST.v2","year":1980.40,"value":-0.0109},
{"series":"ERSST.v2","year":1980.71,"value":-0.0122},
{"series":"ERSST.v2","year":1981.03,"value":-0.0155},
{"series":"ERSST.v2","year":1981.29,"value":-0.0161},
{"series":"ERSST.v2","year":1981.61,"value":-0.0142},
{"series":"ERSST.v2","year":1981.92,"value":-0.0096},
{"series":"ERSST.v2","year":1982.19,"value":-0.0103},
{"series":"ERSST.v2","year":1982.50,"value":-0.0129},
{"series":"ERSST.v2","year":1982.82,"value":-0.0148},
{"series":"ERSST.v2","year":1983.09,"value":-0.0168},
{"series":"ERSST.v2","year":1983.31,"value":-0.0201},
{"series":"ERSST.v2","year":1983.53,"value":-0.0227},
{"series":"ERSST.v2","year":1983.76,"value":-0.0201},
{"series":"ERSST.v2","year":1983.98,"value":-0.0155},
{"series":"ERSST.v2","year":1984.21,"value":-0.0103},
{"series":"ERSST.v2","year":1984.43,"value":-0.0063},
{"series":"ERSST.v2","year":1984.74,"value":-0.0057},
{"series":"ERSST.v2","year":1985.06,"value":-0.0054},
{"series":"ERSST.v2","year":1985.50,"value":-0.0063},
{"series":"ERSST.v2","year":1985.86,"value":-0.0076},
{"series":"ERSST.v2","year":1986.09,"value":-0.0096},
{"series":"ERSST.v2","year":1986.40,"value":-0.0112},
{"series":"ERSST.v2","year":1986.76,"value":-0.0116},
{"series":"ERSST.v2","year":1987.12,"value":-0.0116},
{"series":"ERSST.v2","year":1987.43,"value":-0.0090},
{"series":"ERSST.v2","year":1987.74,"value":-0.0063},
{"series":"ERSST.v2","year":1988.10,"value":-0.0044},
{"series":"ERSST.v2","year":1988.55,"value":-0.0034},
{"series":"ERSST.v2","year":1988.91,"value":-0.0011},
{"series":"ERSST.v2","year":1989.13,"value":0.0028},
{"series":"ERSST.v2","year":1989.45,"value":0.0059},
{"series":"ERSST.v2","year":1989.80,"value":0.0058},
{"series":"ERSST.v2","year":1990.12,"value":0.0054},
{"series":"ERSST.v2","year":1990.43,"value":0.0051},
{"series":"ERSST.v2","year":1990.79,"value":0.0054},
{"series":"ERSST.v2","year":1991.15,"value":0.0041},
{"series":"ERSST.v2","year":1991.46,"value":-0.0005},
{"series":"ERSST.v2","year":1991.78,"value":-0.0063},
{"series":"ERSST.v2","year":1992.05,"value":-0.0129},
{"series":"ERSST.v2","year":1992.27,"value":-0.0194},
{"series":"ERSST.v2","year":1992.49,"value":-0.0240},
{"series":"ERSST.v2","year":1992.81,"value":-0.0250},
{"series":"ERSST.v2","year":1993.03,"value":-0.0246},
{"series":"ERSST.v2","year":1993.34,"value":-0.0243},
{"series":"ERSST.v2","year":1993.61,"value":-0.0240},
{"series":"ERSST.v2","year":1993.84,"value":-0.0194},
{"series":"ERSST.v2","year":1994.15,"value":-0.0116},
{"series":"ERSST.v2","year":1994.46,"value":-0.0024},
{"series":"ERSST.v2","year":1994.69,"value":0.0008},
{"series":"ERSST.v2","year":1994.91,"value":0.0028},
{"series":"ERSST.v2","year":1995.18,"value":-0.0005},
{"series":"ERSST.v2","year":1995.41,"value":-0.0050},
{"series":"ERSST.v2","year":1995.63,"value":-0.0083},
{"series":"ERSST.v2","year":1995.94,"value":-0.0109},
{"series":"ERSST.v2","year":1996.17,"value":-0.0090},
{"series":"ERSST.v2","year":1996.48,"value":-0.0063},
{"series":"ERSST.v2","year":1996.75,"value":-0.0076},
{"series":"ERSST.v2","year":1997.06,"value":-0.0096},
{"series":"ERSST.v2","year":1997.42,"value":-0.0116},
{"series":"ERSST.v2","year":1997.74,"value":-0.0070},
{"series":"ERSST.v2","year":1998.05,"value":-0.0024},
{"series":"ERSST.v2","year":1998.32,"value":0.0002},
{"series":"ERSST.v2","year":1998.50,"value":0.0022},
{"series":"ERSST.v2","year":1998.76,"value":0.0074},
{"series":"ERSST.v2","year":1998.99,"value":0.0139},
{"series":"ERSST.v2","year":1999.21,"value":0.0198},
{"series":"ERSST.v2","year":1999.44,"value":0.0241},
{"series":"ERSST.v2","year":1999.66,"value":0.0224},
{"series":"ERSST.v2","year":1999.89,"value":0.0205},
{"series":"ERSST.v2","year":2000.11,"value":0.0188},
{"series":"ERSST.v2","year":2000.42,"value":0.0172},
{"series":"ERSST.v2","year":2000.74,"value":0.0165},
{"series":"ERSST.v2","year":2001.01,"value":0.0175},
{"series":"ERSST.v2","year":2001.32,"value":0.0172},
{"series":"ERSST.v2","year":2001.63,"value":0.0152},
{"series":"ERSST.v2","year":2001.99,"value":0.0165},
{"series":"ERSST.v2","year":2002.21,"value":0.0159},
{"series":"ERSST.v2","year":2002.44,"value":0.0133},
{"series":"ERSST.v2","year":2002.66,"value":0.0087},
{"series":"ERSST.v2","year":2002.89,"value":0.0041},
{"series":"ERSST.v2","year":2003.11,"value":0.0022},
{"series":"ERSST.v2","year":2003.33,"value":0.0015}
]},
"layer": [
  {
    "data": {"values": [{"start": 1901.7, "end": 2004.5, "level": 0}]},
    "mark": {"type": "rule", "color": "#7a7a7a", "strokeWidth": 1},
    "encoding": {
      "x": {"field": "start", "type": "quantitative", "scale": {"domain": [1901.7, 2004.5], "nice": false, "zero": false},
            "axis": {"orient": "top", "labels": false, "title": null, "values": [1905,1910,1915,1920,1925,1930,1935,1940,1945,1950,1955,1960,1965,1970,1975,1980,1985,1990,1995,2000]}},
      "x2": {"field": "end"},
      "y": {"field": "level", "type": "quantitative", "scale": {"domain": [-0.03, 0.03], "nice": false, "zero": false},
            "axis": {"orient": "right", "labels": false, "title": null, "values": [-0.03,-0.025,-0.02,-0.015,-0.01,-0.005,0,0.005,0.01,0.015,0.02,0.025,0.03]}}
    }
  },
  {
    "transform": [{"filter": "datum.series === 'ERSST.v2'"}],
    "mark": {"type": "line", "interpolate": "monotone", "strokeWidth": 1.5, "clip": true},
    "encoding": {
      "x": {"field": "year", "type": "quantitative", "scale": {"domain": [1901.7, 2004.5], "nice": false, "zero": false},
            "axis": {"orient": "bottom", "title": "Year", "titleFontSize": 24, "titlePadding": 9, "labelPadding": 14,
                     "values": [1905,1910,1915,1920,1925,1930,1935,1940,1945,1950,1955,1960,1965,1970,1975,1980,1985,1990,1995,2000],
                     "labelExpr": "substring(toString(datum.value), 2, 4)"}},
      "y": {"field": "value", "type": "quantitative", "scale": {"domain": [-0.03, 0.03], "nice": false, "zero": false},
            "axis": {"orient": "left", "title": "Related temperature change (K)", "titlePadding": 38, "labelPadding": 22,
                     "values": [-0.03,-0.025,-0.02,-0.015,-0.01,-0.005,0,0.005,0.01,0.015,0.02,0.025,0.03],
                     "labelExpr": "abs(round(datum.value*1000)) % 10 == 0 ? (datum.value < -0.0001 ? '-' : '') + format(abs(datum.value), '.2f') : ''"}},
      "color": {"field": "series", "type": "nominal", "scale": {"domain": ["-1.5*GISTEMP", "ERSST.v2"], "range": ["#000000", "#d4684f"]}, "legend": {"title": null}},
      "strokeDash": {"field": "series", "type": "nominal", "scale": {"domain": ["-1.5*GISTEMP", "ERSST.v2"], "range": [[1, 0], [11, 6]]}, "legend": {"title": null}}
    }
  },
  {
    "transform": [{"filter": "datum.series === '-1.5*GISTEMP'"}],
    "mark": {"type": "line", "interpolate": "monotone", "strokeWidth": 1.6, "clip": true},
    "encoding": {
      "x": {"field": "year", "type": "quantitative", "axis": null},
      "y": {"field": "value", "type": "quantitative", "axis": null},
      "color": {"field": "series", "type": "nominal", "legend": {"title": null}},
      "strokeDash": {"field": "series", "type": "nominal", "legend": {"title": null}}
    }
  }
],
"resolve": {"axis": {"x": "independent", "y": "independent"}}
}
